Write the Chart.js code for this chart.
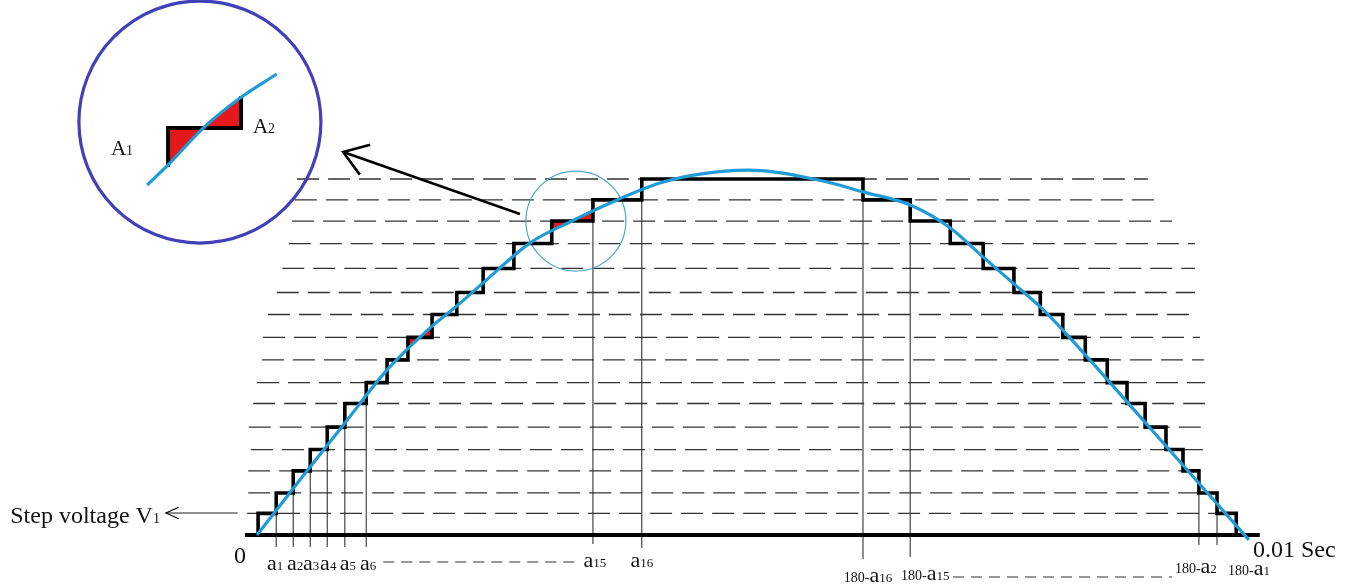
<!DOCTYPE html>
<html>
<head>
<meta charset="utf-8">
<title>Step voltage approximation of a half sine</title>
<script src="https://cdn.jsdelivr.net/npm/chart.js@4.4.1/dist/chart.umd.min.js"></script>
<style>
  html, body { margin: 0; padding: 0; background: #fff; }
  #wrap { width: 1352px; height: 584px; }
</style>
</head>
<body>
<div id="wrap"><canvas id="chart" width="1352" height="584"></canvas></div>
<script>
// x in degrees (0..180 = one half cycle, 0.01 s), y in step-voltage units

// switching angles of the staircase (rising half, falling half)
const riseDeg = [0.2, 3.5, 6.6, 9.7, 12.8, 16.0, 19.9, 23.7, 27.5, 31.9, 36.4, 41.2, 46.8, 53.7, 61.2, 70.1];
const fallDeg = [110.4, 119.0, 126.3, 132.3, 137.9, 142.7, 146.8, 150.9, 154.9, 158.5, 161.8, 165.6, 168.7, 171.6, 174.9, 178.4];
const stepLevels = [0.97, 1.89, 2.88, 3.84, 4.85, 5.91, 6.85, 7.87, 8.88, 9.91, 10.90, 11.98, 13.10, 14.11, 15.06, 16.0];

// reference sine as drawn
const curveDeg = [0, 7.8, 16.0, 23.7, 31.5, 36.4, 41.2, 49.7, 57.0, 65.6, 73.4, 80.7, 89.5, 103.1, 110.4, 119.0, 126.3, 132.3, 137.7, 142.7, 146.8, 162.7, 180.7];
const curveLevel = [0, 2.47, 5.03, 7.42, 9.30, 10.29, 11.33, 13.12, 14.07, 15.06, 15.82, 16.22, 16.40, 15.91, 15.42, 14.83, 13.80, 12.49, 11.33, 10.25, 9.21, 4.81, -0.22];

// dashed level lines, one per step
const gridStart = [-1.8, -1.6, -1.6, -1.1, -1.5, -0.7, 0, 0.9, 1.1, 2.0, 3.6, 4.6, 5.8, 6.4, 6.9, 7.3];
const gridEnd = [178.4, 171.6, 173.3, 172.9, 173.1, 172.7, 172.7, 172.5, 171.8, 170.9, 170.9, 170.9, 170.9, 166.7, 164.5, 162.3];

// labelled switching angles
const tickNames = ['a1', 'a2', 'a3', 'a4', 'a5', 'a6', 'a15', 'a16', '180-a16', '180-a15', '180-a2', '180-a1'];
const tickDeg = [3.5, 6.6, 9.7, 12.8, 16.0, 19.9, 61.2, 70.1, 110.4, 119.0, 171.6, 174.9];
const tickTop = [0.97, 1.89, 2.88, 3.84, 4.85, 5.91, 14.11, 15.06, 15.06, 14.11, 1.89, 0.97];
const tickFoot = [-0.54, -0.54, -0.54, -0.54, -0.54, -0.54, -0.40, -0.58, -1.08, -0.99, -0.45, -0.45];
const dotRuns = [[23.0, 57.9, -1.21], [126.8, 166.7, -1.89]];

// error areas between curve and steps
const errorPatches = [
  [[53.7, 13.64], [53.7, 14.11], [57.3, 14.11]],
  [[57.3, 14.11], [61.2, 14.11], [61.2, 14.55]],
  [[27.5, 8.34], [27.5, 8.88], [29.7, 8.88]],
  [[29.7, 8.88], [31.9, 8.88], [31.9, 9.38]]
];

// magnified view (drawn in the same units, upper left)
const insetCurveDeg = [-20.0, -16.2, -9.8, -3.1, 3.6];
const insetCurveLevel = [15.73, 16.63, 18.29, 19.64, 20.72];
const insetStepDeg = [-16.2, -16.2, -2.9, -2.9];
const insetStepLevel = [16.54, 18.29, 18.29, 19.73];
const insetPatches = [
  [[-16.2, 16.63], [-16.2, 18.29], [-9.8, 18.29], [-13.1, 17.48]],
  [[-9.8, 18.29], [-2.9, 18.29], [-2.9, 19.64], [-6.6, 18.97]]
];
const lensCenter = [-10.4, 18.56];
const spotCenter = [58.1, 14.11];
const pointer = [[47.9, 14.43], [15.7, 17.21]];
const stepArrow = [[-3.5, 0.99], [-16.6, 0.99]];
const axisSpan = [-2.2, 182.7];

// --- styling ---
const BLUE = '#1f9bd7';
const RED = '#e3191c';
const FONT = '"Liberation Serif", "Times New Roman", serif';
const labelShift = [-1, 2, 1, 1, 3, 2, 2, 0, 5, 15, -3, 32];
const labelDrop = [35, 35, 35, 35, 35, 35, 32, 32, 47, 45, 38, 40];

const xy = (xs, ys) => xs.map((v, i) => ({ x: v, y: ys[i] }));

// staircase path
const stairPts = [];
riseDeg.forEach((d, i) => {
  stairPts.push({ x: d, y: i ? stepLevels[i - 1] : 0 }, { x: d, y: stepLevels[i] });
});
fallDeg.forEach((d, j) => {
  const k = stepLevels.length - 1 - j;
  stairPts.push({ x: d, y: stepLevels[k] }, { x: d, y: k > 0 ? stepLevels[k - 1] : 0 });
});

const gridPts = [];
stepLevels.forEach((l, i) => {
  gridPts.push({ x: gridStart[i], y: l }, { x: gridEnd[i], y: l }, { x: gridEnd[i], y: null });
});

const tickPts = [];
tickDeg.forEach((d, i) => {
  tickPts.push({ x: d, y: tickFoot[i] }, { x: d, y: tickTop[i] }, { x: d, y: null });
});

const dotPts = [];
dotRuns.forEach(r => dotPts.push({ x: r[0], y: r[2] }, { x: r[1], y: r[2] }, { x: r[1], y: null }));

const lineSet = (data, extra) => Object.assign({
  data, showLine: true, fill: false, pointRadius: 0, tension: 0,
  borderColor: '#000', borderWidth: 1
}, extra);

const datasets = [
  lineSet(xy(curveDeg, curveLevel), { borderColor: BLUE, borderWidth: 3.2, cubicInterpolationMode: 'monotone', order: 1 }),
  lineSet(xy(insetCurveDeg, insetCurveLevel), { borderColor: BLUE, borderWidth: 3.2, cubicInterpolationMode: 'monotone', order: 1 }),
  lineSet(stairPts, { borderWidth: 3.6, borderJoinStyle: 'miter', order: 2 }),
  lineSet(xy(insetStepDeg, insetStepLevel), { borderWidth: 4, borderJoinStyle: 'miter', order: 2 }),
  lineSet([{ x: axisSpan[0], y: 0 }, { x: axisSpan[1], y: 0 }], { borderWidth: 3.8, order: 2 }),
  ...errorPatches.concat(insetPatches).map(p =>
    lineSet(p.map(q => ({ x: q[0], y: q[1] })), { borderWidth: 0, borderColor: RED, backgroundColor: RED, fill: 'shape', order: 3 })),
  { data: [{ x: lensCenter[0], y: lensCenter[1] }], pointRadius: 121, pointHoverRadius: 121, pointBorderWidth: 3.2,
    pointBorderColor: '#4040b8', pointBackgroundColor: 'rgba(0,0,0,0)', order: 4 },
  { data: [{ x: spotCenter[0], y: spotCenter[1] }], pointRadius: 50, pointHoverRadius: 50, pointBorderWidth: 1.2,
    pointBorderColor: '#4aa8c9', pointBackgroundColor: 'rgba(0,0,0,0)', order: 4 },
  lineSet(pointer.map(p => ({ x: p[0], y: p[1] })), { borderWidth: 2.6, order: 4 }),
  lineSet(stepArrow.map(p => ({ x: p[0], y: p[1] })), { borderWidth: 1.1, borderColor: '#222', order: 4 }),
  lineSet(tickPts, { borderWidth: 1.1, borderColor: '#333', order: 5 }),
  lineSet(dotPts, { borderWidth: 1.1, borderColor: '#333', borderDash: [11, 7], order: 5 }),
  lineSet(gridPts, { borderWidth: 1.3, borderColor: '#333', borderDash: [22, 9], order: 6 })
];

function drawRuns(ctx, parts, x, y, align) {
  let w = 0;
  parts.forEach(p => { ctx.font = p[1] + 'px ' + FONT; w += ctx.measureText(p[0]).width; });
  let cx = align === 'center' ? x - w / 2 : (align === 'right' ? x - w : x);
  ctx.textAlign = 'left';
  ctx.textBaseline = 'alphabetic';
  parts.forEach(p => {
    ctx.font = p[1] + 'px ' + FONT;
    ctx.fillText(p[0], cx, y + (p[2] || 0));
    cx += ctx.measureText(p[0]).width;
  });
}

function arrowHead(ctx, from, to, len, spread, width) {
  const ang = Math.atan2(from[1] - to[1], from[0] - to[0]);
  ctx.beginPath();
  ctx.moveTo(to[0] + len * Math.cos(ang + spread), to[1] + len * Math.sin(ang + spread));
  ctx.lineTo(to[0], to[1]);
  ctx.lineTo(to[0] + len * Math.cos(ang - spread), to[1] + len * Math.sin(ang - spread));
  ctx.lineWidth = width;
  ctx.strokeStyle = '#000';
  ctx.lineJoin = 'miter';
  ctx.stroke();
}

const overlay = {
  id: 'overlay',
  afterDatasetsDraw(chart) {
    const { ctx, scales: { x, y } } = chart;
    const px = p => [x.getPixelForValue(p[0]), y.getPixelForValue(p[1])];
    ctx.save();
    ctx.fillStyle = '#111';

    arrowHead(ctx, px(pointer[0]), px(pointer[1]), 28, 0.6, 2.6);
    arrowHead(ctx, px(stepArrow[0]), px(stepArrow[1]), 14, 0.42, 1.1);

    const base = y.getPixelForValue(0);
    tickNames.forEach((name, i) => {
      const m = name.match(/^(180-)?a(\d+)$/);
      const parts = [];
      if (m[1]) parts.push([m[1], 14]);
      parts.push(['a', 22], [m[2], 13]);
      drawRuns(ctx, parts, x.getPixelForValue(tickDeg[i]) + labelShift[i], base + labelDrop[i], 'center');
    });

    drawRuns(ctx, [['0', 24]], x.getPixelForValue(0) - 17, base + 28, 'center');
    drawRuns(ctx, [['0.01 Sec', 24]], x.getPixelForValue(180) + 8, base + 22, 'left');

    const tip = px(stepArrow[1]);
    drawRuns(ctx, [['Step voltage V', 24], ['1', 14]], tip[0] - 6, tip[1] + 10, 'right');

    const c = px(lensCenter);
    drawRuns(ctx, [['A', 21], ['1', 14]], c[0] - 89, c[1] + 33, 'left');
    drawRuns(ctx, [['A', 21], ['2', 14]], c[0] + 53, c[1] + 11, 'left');
    ctx.restore();
  }
};

new Chart(document.getElementById('chart'), {
  type: 'scatter',
  data: { datasets },
  options: {
    responsive: false,
    animation: false,
    devicePixelRatio: 1,
    events: [],
    layout: { padding: 0, autoPadding: false },
    elements: { point: { radius: 0 } },
    plugins: { legend: { display: false }, tooltip: { enabled: false } },
    scales: {
      x: { type: 'linear', display: false, min: -46.82, max: 199.49 },
      y: { type: 'linear', display: false, min: -2.202, max: 24.045 }
    }
  },
  plugins: [overlay]
});
</script>
</body>
</html>
